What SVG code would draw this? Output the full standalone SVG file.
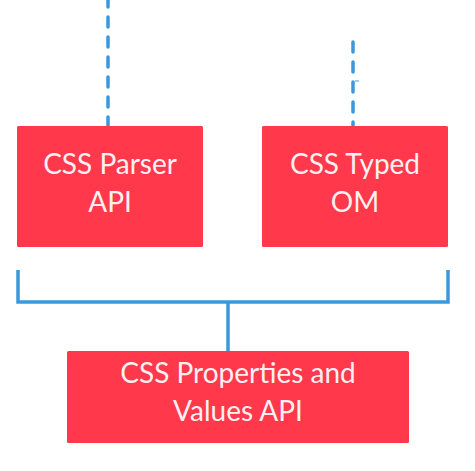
<svg xmlns="http://www.w3.org/2000/svg" width="475" height="471" viewBox="0 0 475 471">
<style>
.box{fill:#FF384B}
.lbl{font-family:Lato,"Open Sans",sans-serif;font-size:28px;fill:#FFF0F1;text-anchor:middle}
.wire{stroke:#3A98DB;stroke-width:3.5;fill:none}
.dash{stroke-dasharray:10 10;stroke-linecap:round}
</style>
<rect width="475" height="471" fill="#fff"/>
<g id="connectors">
<path class="wire dash" d="M108,-3 V126"/>
<path class="wire dash" d="M353,42 V126"/>
<path d="M355,81 H359" stroke="#3A98DB" stroke-width="1" fill="none"/>
<path class="wire" d="M18,270 V302 H448 V270"/>
<path class="wire" d="M228,302 V351"/>
</g>
<g id="parser">
<rect class="box" x="17" y="126" width="186" height="121" rx="1.5"/>
<text class="lbl" x="110" y="174">CSS Parser</text>
<text class="lbl" x="110" y="212">API</text>
</g>
<g id="typedom">
<rect class="box" x="262" y="126" width="186" height="121" rx="1.5"/>
<text class="lbl" x="355" y="174">CSS Typed</text>
<text class="lbl" x="355" y="212">OM</text>
</g>
<g id="props">
<rect class="box" x="67" y="351" width="342" height="92" rx="1.5"/>
<text class="lbl" x="238" y="383">CSS Properties and</text>
<text class="lbl" x="238" y="421">Values API</text>
</g>
</svg>
